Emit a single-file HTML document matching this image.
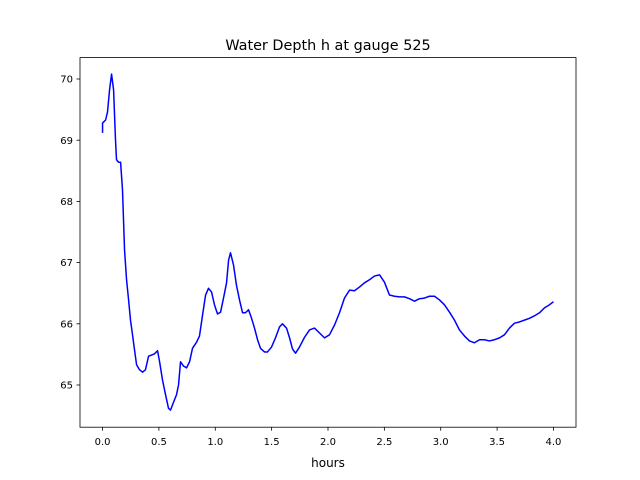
<!DOCTYPE html>
<html><head><meta charset="utf-8"><style>
html,body{margin:0;padding:0;background:#fff;}
svg{display:block;font-family:"DejaVu Sans","Liberation Sans",sans-serif;}
</style></head><body>
<svg id="chart" width="640" height="480" viewBox="0 0 640 480" xmlns="http://www.w3.org/2000/svg">
<rect width="640" height="480" fill="#fff"/>
<text x="328" y="50" font-size="14.4" text-anchor="middle">Water Depth h at gauge 525</text>
<text x="328" y="467" font-size="12" text-anchor="middle">hours</text>
<g id="xticks"></g>
<g id="yticks"></g>
<path id="line" fill="none" stroke="#0000ff" stroke-width="1.5" stroke-linejoin="round"/>
<rect x="80" y="57.6" width="496" height="369.6" fill="none" stroke="#000" stroke-width="0.8"/>
</svg>
<script>
const hours=[0,0,0.027,0.044,0.062,0.080,0.098,0.115,0.124,0.142,0.160,0.177,0.195,0.213,0.231,0.248,0.266,0.284,0.302,0.328,0.355,0.381,0.408,0.435,0.461,0.488,0.506,0.532,0.559,0.585,0.603,0.630,0.656,0.674,0.692,0.718,0.745,0.772,0.798,0.834,0.860,0.887,0.914,0.940,0.967,0.993,1.020,1.047,1.073,1.100,1.118,1.135,1.162,1.188,1.215,1.242,1.268,1.295,1.322,1.348,1.375,1.401,1.437,1.463,1.499,1.534,1.570,1.596,1.632,1.659,1.685,1.712,1.747,1.792,1.836,1.880,1.925,1.969,2.013,2.058,2.102,2.146,2.191,2.235,2.279,2.324,2.368,2.412,2.457,2.501,2.545,2.590,2.634,2.678,2.723,2.767,2.812,2.856,2.900,2.945,2.989,3.033,3.078,3.122,3.166,3.211,3.255,3.299,3.344,3.388,3.432,3.477,3.521,3.565,3.610,3.654,3.698,3.743,3.787,3.831,3.876,3.920,3.964,4.000];
const depth=[69.12,69.28,69.33,69.46,69.82,70.08,69.82,69.00,68.68,68.64,68.64,68.19,67.21,66.72,66.39,66.06,65.82,65.57,65.33,65.25,65.21,65.25,65.47,65.49,65.51,65.56,65.38,65.08,64.84,64.62,64.59,64.72,64.84,65.00,65.38,65.31,65.28,65.38,65.60,65.70,65.80,66.14,66.47,66.58,66.52,66.31,66.16,66.19,66.42,66.67,67.04,67.16,66.96,66.63,66.39,66.18,66.18,66.23,66.09,65.93,65.74,65.60,65.54,65.54,65.62,65.77,65.95,66.00,65.93,65.77,65.59,65.52,65.62,65.78,65.90,65.93,65.85,65.77,65.82,65.98,66.18,66.42,66.55,66.54,66.60,66.67,66.72,66.78,66.80,66.68,66.47,66.45,66.44,66.44,66.41,66.37,66.41,66.42,66.45,66.45,66.39,66.31,66.19,66.06,65.90,65.80,65.72,65.69,65.74,65.74,65.72,65.74,65.77,65.82,65.93,66.01,66.03,66.06,66.09,66.13,66.18,66.26,66.31,66.36];
const xTickVals=[0,0.5,1,1.5,2,2.5,3,3.5,4];
const xTickLabels=["0.0","0.5","1.0","1.5","2.0","2.5","3.0","3.5","4.0"];
const yTickVals=[65,66,67,68,69,70];
const yTickLabels=["65","66","67","68","69","70"];
const X=v=>80+(v+0.2)/4.4*496;
const Y=v=>385-(v-65)*61.2;
const NS="http://www.w3.org/2000/svg";
const xg=document.getElementById('xticks'), yg=document.getElementById('yticks');
xTickVals.forEach((v,i)=>{
  const l=document.createElementNS(NS,'line');
  l.setAttribute('x1',X(v));l.setAttribute('x2',X(v));l.setAttribute('y1',427.2);l.setAttribute('y2',430.7);
  l.setAttribute('stroke','#000');l.setAttribute('stroke-width','0.8');
  
  
  xg.appendChild(l);
  const t=document.createElementNS(NS,'text');
  t.setAttribute('x',X(v));t.setAttribute('y',445);t.setAttribute('font-size','10');t.setAttribute('text-anchor','middle');
  t.textContent=xTickLabels[i];
  
  
  xg.appendChild(t);
});
yTickVals.forEach((v,i)=>{
  const l=document.createElementNS(NS,'line');
  l.setAttribute('x1',76.5);l.setAttribute('x2',80);l.setAttribute('y1',Y(v));l.setAttribute('y2',Y(v));
  l.setAttribute('stroke','#000');l.setAttribute('stroke-width','0.8');
  
  
  yg.appendChild(l);
  const t=document.createElementNS(NS,'text');
  t.setAttribute('x',73);t.setAttribute('y',Y(v)+3.6);t.setAttribute('font-size','10');t.setAttribute('text-anchor','end');
  t.textContent=yTickLabels[i];
  
  
  yg.appendChild(t);
});
document.getElementById('line').setAttribute('d',hours.map((h,i)=>(i?'L':'M')+X(h).toFixed(2)+' '+Y(depth[i]).toFixed(2)).join(' '));
</script>
</body></html>
